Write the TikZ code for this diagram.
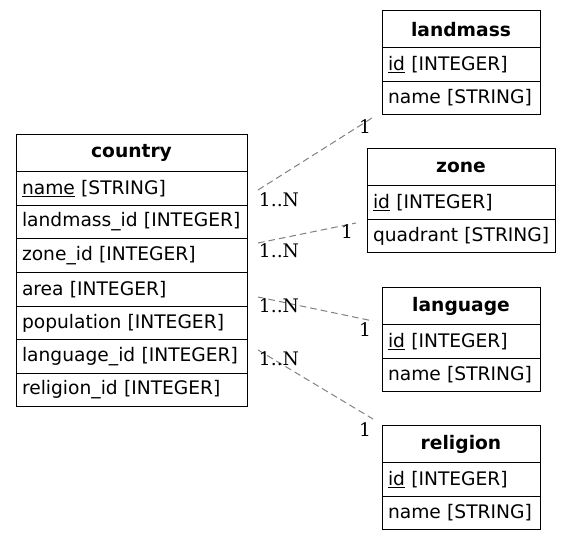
\documentclass[tikz,border=0pt]{standalone}
\usepackage{fontspec}
\setmainfont{DejaVu Sans}
\newfontfamily\cardfont{DejaVu Serif}
\usetikzlibrary{positioning}
\newcommand{\tblfont}{\fontsize{14}{16.8}\selectfont}

\begin{document}
\begin{tikzpicture}[x=0.75pt, y=-0.75pt, node distance=0pt, font=\tblfont, head/.style={draw=black, line width=0.75pt, outer sep=0pt, font=\tblfont\bfseries, minimum width=#1, minimum height=27.5pt, inner sep=0pt}, field/.style={draw=black, line width=0.75pt, outer sep=0pt, text width=#1, align=left, minimum height=25.2pt, inner xsep=4.5pt, inner ysep=0pt}, rel/.style={draw=black!50, line width=0.75pt, dash pattern=on 5pt off 3pt}, card/.style={font=\cardfont\tblfont, inner sep=0pt}]
    \useasboundingbox (0,0) rectangle (572,541);

    %Tables
    \node[head=173.25pt, anchor=north west](country) at (16,135){country};
    \node[field=164.25pt](country_name)[below=of country]{\underline{name}~[STRING]};
    \node[field=164.25pt](country_landmass)[below=of country_name]{landmass\_id~[INTEGER]};
    \node[field=164.25pt](country_zone)[below=of country_landmass]{zone\_id~[INTEGER]};
    \node[field=164.25pt](country_area)[below=of country_zone]{area~[INTEGER]};
    \node[field=164.25pt](country_population)[below=of country_area]{population~[INTEGER]};
    \node[field=164.25pt](country_language)[below=of country_population]{language\_id~[INTEGER]};
    \node[field=164.25pt](country_religion)[below=of country_language]{religion\_id~[INTEGER]};

    \node[head=118.5pt, anchor=north west](landmass) at (382,11){landmass};
    \node[field=109.5pt](landmass_id)[below=of landmass]{\underline{id}~[INTEGER]};
    \node[field=109.5pt](landmass_name)[below=of landmass_id]{name~[STRING]};

    \node[head=141pt, anchor=north west](zone) at (367,149){zone};
    \node[field=132pt](zone_id)[below=of zone]{\underline{id}~[INTEGER]};
    \node[field=132pt](zone_quadrant)[below=of zone_id]{quadrant~[STRING]};

    \node[head=118.5pt, anchor=north west](language) at (382,288){language};
    \node[field=109.5pt](language_id)[below=of language]{\underline{id}~[INTEGER]};
    \node[field=109.5pt](language_name)[below=of language_id]{name~[STRING]};

    \node[head=118.5pt, anchor=north west](religion) at (382,426){religion};
    \node[field=109.5pt](religion_id)[below=of religion]{\underline{id}~[INTEGER]};
    \node[field=109.5pt](religion_name)[below=of religion_id]{name~[STRING]};

    %Edge ends
    \coordinate (landmass_from) at (258,190);
    \coordinate (landmass_to) at (372,118);
    \coordinate (zone_from) at (258,243);
    \coordinate (zone_to) at (356,223);
    \coordinate (language_from) at (258,297);
    \coordinate (language_to) at (373,321);
    \coordinate (religion_from) at (258,350);
    \coordinate (religion_to) at (373,419);

    %Lines
    \draw[rel] (landmass_from) -- (landmass_to);
    \draw[rel] (zone_from) -- (zone_to);
    \draw[rel] (language_from) -- (language_to);
    \draw[rel] (religion_from) -- (religion_to);

    %Labels
    \node[card](landmass_many) at (279,199.5){1..N};
    \node[card](landmass_one) at (365,127){1};
    \node[card](zone_many) at (279,251){1..N};
    \node[card](zone_one) at (347,231.5){1};
    \node[card](language_many) at (279,305.5){1..N};
    \node[card](language_one) at (365,329.5){1};
    \node[card](religion_many) at (279,358.5){1..N};
    \node[card](religion_one) at (365,430){1};

\end{tikzpicture}
\end{document}
